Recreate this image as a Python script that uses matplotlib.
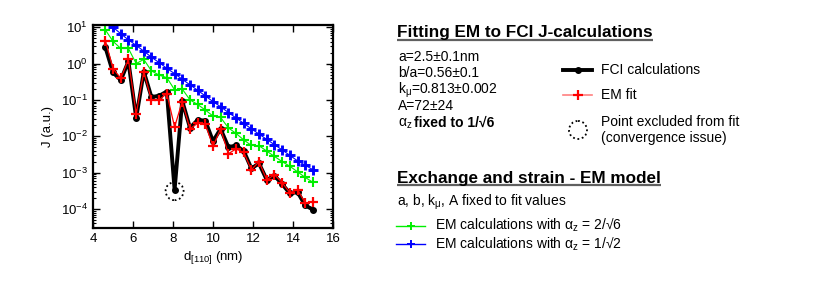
import numpy as np
import matplotlib
matplotlib.use("Agg")
import matplotlib.pyplot as plt
import matplotlib.transforms as mtransforms
from matplotlib.patches import Circle

plt.rcParams['font.family'] = ['Liberation Sans', 'DejaVu Sans']
plt.rcParams['mathtext.fontset'] = 'custom'
plt.rcParams['mathtext.rm'] = 'Liberation Sans'
plt.rcParams['mathtext.it'] = 'Liberation Sans'
plt.rcParams['mathtext.bf'] = 'Liberation Sans:bold'

# ---------------- data ----------------
d110 = [4.62, 5.00, 5.39, 5.77, 6.16, 6.54, 6.92, 7.31, 7.69, 8.08,
        8.46, 8.85, 9.23, 9.61, 10.00, 10.38, 10.77, 11.15, 11.54, 11.92,
        12.30, 12.69, 13.07, 13.46, 13.84, 14.23, 14.61, 15.00]

fci = [2.8, 0.57, 0.35, 1.15, 0.032, 0.6, 0.12, 0.13, 0.17, 3.4e-4,
       0.095, 0.017, 0.028, 0.027, 0.0073, 0.016, 0.005, 0.0056, 0.0039, 0.0013,
       0.0018, 6.3e-4, 8.3e-4, 4.8e-4, 2.7e-4, 2.9e-4, 1.26e-4, 9.6e-5]

em_fit = [4.3, 0.73, 0.39, 1.3, 0.041, 0.6, 0.10, 0.10, 0.15, 0.018,
          0.09, 0.016, 0.023, 0.022, 0.0053, 0.016, 0.0033, 0.0045, 0.0036, 0.0012,
          0.0020, 6.3e-4, 8.8e-4, 5.3e-4, 2.8e-4, 3.4e-4, 1.45e-4, 1.6e-4]

em_2sqrt6 = [8.4, 4.1, 2.6, 2.6, 1.0, 1.3, 0.63, 0.48, 0.41, 0.19,
             0.20, 0.10, 0.075, 0.053, 0.036, 0.033, 0.017, 0.012, 0.0079, 0.0056,
             0.0055, 0.0039, 0.0028, 0.0020, 0.0015, 0.00105, 7.4e-4, 5.4e-4]

d110_blue = d110[1:]
em_1sqrt2 = [10.0, 6.6, 4.5, 3.15, 2.2, 1.5, 1.06, 0.74, 0.53,
             0.37, 0.26, 0.185, 0.129, 0.09, 0.065, 0.045, 0.032, 0.0226, 0.016,
             0.0115, 0.0082, 0.0059, 0.0042, 0.0030, 0.0021, 0.0016, 0.0012]

excluded_index = 9

xticks = [4, 6, 8, 10, 12, 14, 16]

GREEN = '#00ee00'
BLUE = '#0000ff'
RED = '#ff0000'

# ---------------- figure ----------------
W, H = 830, 293
fig = plt.figure(figsize=(W / 100, H / 100), dpi=100)
ax = fig.add_axes([93 / W, 1 - 228 / H, 240 / W, 203 / H])

ax.plot(d110, em_2sqrt6, color=GREEN, lw=0.8, marker='+', ms=6.5, mew=1.5, zorder=2)
ax.plot(d110_blue, em_1sqrt2, color=BLUE, lw=0.8, marker='+', ms=6.5, mew=2.1, zorder=2)
ax.plot(d110, fci, color='black', lw=2.8, marker='o', ms=4, zorder=3)
ax.plot(d110, em_fit, color=RED, lw=0.9, marker='+', ms=7.5, mew=1.6, zorder=4)

# dotted circle around excluded point
trans = fig.dpi_scale_trans + mtransforms.ScaledTranslation(
    d110[excluded_index], fci[excluded_index], ax.transData)
ax.add_patch(Circle((0, -0.015), 0.09, transform=trans, fill=False,
                    ls=(0, (1, 1.5)), lw=1.3, color='black', zorder=5, clip_on=False))

ax.set_yscale('log')
ax.set_xlim(4, 16)
ax.set_ylim(3e-5, 11.5)
ax.set_xticks(xticks)
ax.tick_params(which='both', direction='in', top=True, right=True, labelsize=9.5)
ax.tick_params(which='major', length=5, width=1)
ax.tick_params(which='minor', length=2.5, width=0.8)
ax.tick_params(axis='x', which='minor', bottom=False, top=False)
for s in ax.spines.values():
    s.set_linewidth(1.6)
ax.set_xlabel(r'd$_{[110]}$ (nm)', fontsize=9.5, labelpad=3)
ax.set_ylabel('J (a.u.)', fontsize=9.5, labelpad=5)

# ---------------- right-hand annotation panel ----------------
ov = fig.add_axes([0, 0, 1, 1])
ov.set_xlim(0, W)
ov.set_ylim(H, 0)
ov.axis('off')

t1 = ov.text(397, 37.5, 'Fitting EM to FCI J-calculations', fontsize=12.3,
             fontweight='bold', va='baseline', ha='left')
t2 = ov.text(397, 182.5, 'Exchange and strain - EM model', fontsize=12.3,
             fontweight='bold', va='baseline', ha='left')

params = ['a=2.5±0.1nm', 'b/a=0.56±0.1', r'k$_{\mu}$=0.813±0.002', 'A=72±24']
for i, s in enumerate(params):
    ov.text(398, 60.7 + 16.5 * i, s, fontsize=10, va='baseline')
ov.text(398, 126.7, r'α$_{z}$', fontsize=10, va='baseline')
ov.text(414, 126.7, 'fixed to 1/√6', fontsize=10, fontweight='bold', va='baseline')

# legend entries (upper)
ov.plot([563, 592], [70, 70], color='black', lw=2.8)
ov.plot([578], [70], color='black', marker='o', ms=4)
ov.text(601, 74.3, 'FCI calculations', fontsize=10, va='baseline')
ov.plot([563, 592], [95, 95], color='#ff8080', lw=1.2)
ov.plot([578], [95], color=RED, marker='+', ms=7, mew=1.6)
ov.text(601, 99.3, 'EM fit', fontsize=10, va='baseline')
ov.add_patch(Circle((578, 130), 9, fill=False, ls=(0, (1, 1.5)), lw=1.3, color='black'))
ov.text(601, 125.7, 'Point excluded from fit', fontsize=10, va='baseline')
ov.text(601, 142, '(convergence issue)', fontsize=10, va='baseline')

# lower section
ov.text(397, 205.7, r'a, b, k$_{\mu}$, A fixed to fit values', fontsize=10, va='baseline')
ov.plot([396, 425], [225.7, 225.7], color=GREEN, lw=1.0)
ov.plot([410.5], [225.7], color=GREEN, marker='+', ms=6, mew=1.4)
ov.text(435, 230, r'EM calculations with α$_{z}$ = 2/√6', fontsize=10, va='baseline')
ov.plot([396, 425], [244, 244], color=BLUE, lw=1.0)
ov.plot([410.5], [244], color=BLUE, marker='+', ms=6, mew=1.4)
ov.text(435, 248.3, r'EM calculations with α$_{z}$ = 1/√2', fontsize=10, va='baseline')

# underlines under the titles
fig.canvas.draw()
r = fig.canvas.get_renderer()
inv = ov.transData.inverted()
for t, yy in ((t1, 40), (t2, 185)):
    bb = t.get_window_extent(renderer=r)
    x0 = inv.transform((bb.x0, 0))[0]
    x1 = inv.transform((bb.x1, 0))[0]
    ov.plot([x0, x1], [yy, yy], color='#606060', lw=1.6, solid_capstyle='butt')

fig.savefig('out.png', dpi=100)
